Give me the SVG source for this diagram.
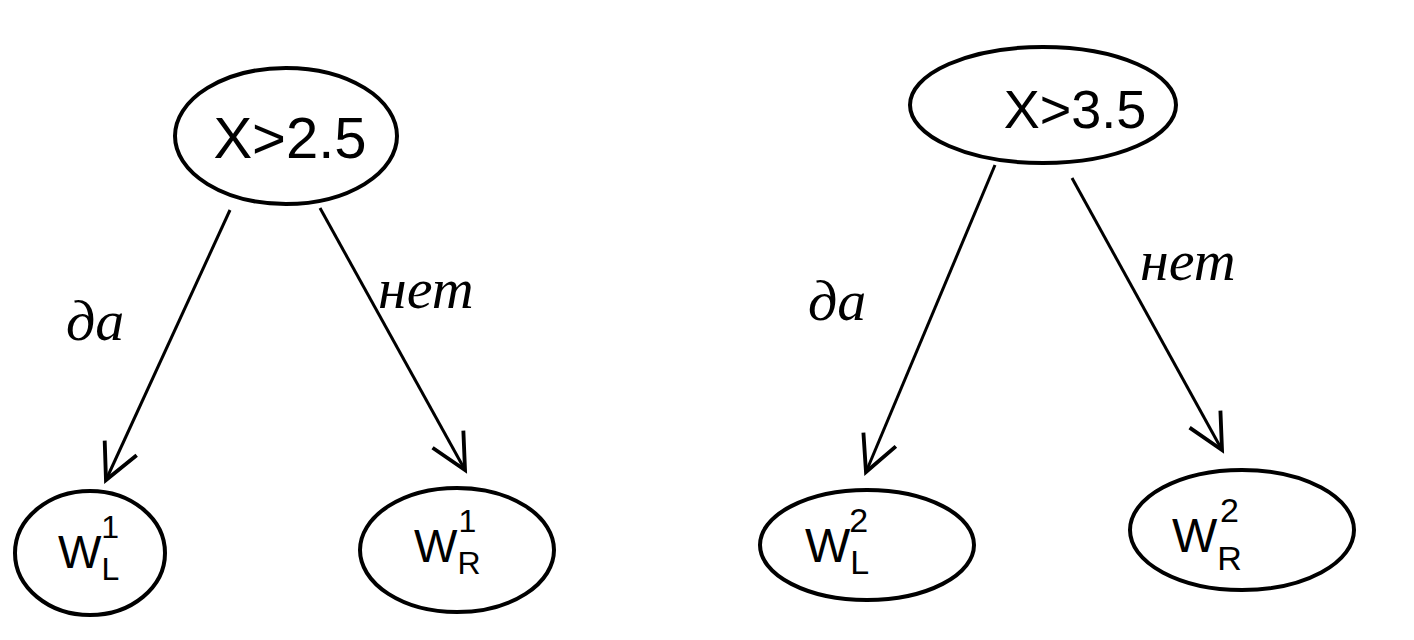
<svg xmlns="http://www.w3.org/2000/svg" width="1414" height="640" viewBox="0 0 1414 640">
<defs>
<style>
.node{fill:none;stroke:#000;stroke-width:4}
.edge{fill:none;stroke:#000;stroke-width:3}
.t{font-family:"Liberation Sans",Arial,sans-serif;fill:#000}
.lbl{font-family:"Liberation Serif","Times New Roman",serif;font-style:italic;fill:#000;font-size:58px}
</style>
<marker id="arrL" viewBox="0 0 40 40" refX="36" refY="20" markerWidth="44" markerHeight="44" orient="auto" markerUnits="userSpaceOnUse">
<polyline points="4,4 36,20 4,36" fill="none" stroke="#000" stroke-width="3.5"/>
</marker>
</defs>
<rect width="1414" height="640" fill="#fff"/>
<g id="connectors">
<line class="edge" x1="230" y1="210" x2="106" y2="480" marker-end="url(#arrL)"/>
<line class="edge" x1="320" y1="208" x2="465" y2="470" marker-end="url(#arrL)"/>
<line class="edge" x1="995" y1="165" x2="866" y2="472" marker-end="url(#arrL)"/>
<line class="edge" x1="1072" y1="178" x2="1222" y2="450" marker-end="url(#arrL)"/>
<text class="lbl" x="66" y="340">да</text>
<text class="lbl" x="378" y="308">нет</text>
<text class="lbl" x="808" y="320">да</text>
<text class="lbl" x="1140" y="280">нет</text>
</g>
<g id="root1">
<ellipse class="node" cx="286" cy="136" rx="111" ry="68"/>
<text class="t" x="290" y="158" font-size="58" text-anchor="middle">X&gt;2.5</text>
</g>
<g id="leafL1">
<ellipse class="node" cx="90" cy="553" rx="75" ry="62"/>
<text class="t" x="58" y="568" font-size="46">W<tspan font-size="32" dy="12">L</tspan><tspan font-size="32" dx="-18" dy="-42">1</tspan></text>
</g>
<g id="leafR1">
<ellipse class="node" cx="457" cy="550" rx="97" ry="62"/>
<text class="t" x="414" y="562" font-size="46">W<tspan font-size="32" dy="12">R</tspan><tspan font-size="32" dx="-22" dy="-42">1</tspan></text>
</g>
<g id="root2">
<ellipse class="node" cx="1043" cy="105" rx="133" ry="58" stroke-width="3"/>
<text class="t" x="1075" y="128" font-size="54" text-anchor="middle">X&gt;3.5</text>
</g>
<g id="leafL2">
<ellipse class="node" cx="867" cy="545" rx="107" ry="55"/>
<text class="t" x="805" y="562" font-size="48">W<tspan font-size="34" dy="12">L</tspan><tspan font-size="34" dx="-20" dy="-42">2</tspan></text>
</g>
<g id="leafR2">
<ellipse class="node" cx="1242" cy="530" rx="112" ry="60"/>
<text class="t" x="1172" y="552" font-size="48">W<tspan font-size="34" dy="18">R</tspan><tspan font-size="34" dx="-22" dy="-48">2</tspan></text>
</g>
</svg>
